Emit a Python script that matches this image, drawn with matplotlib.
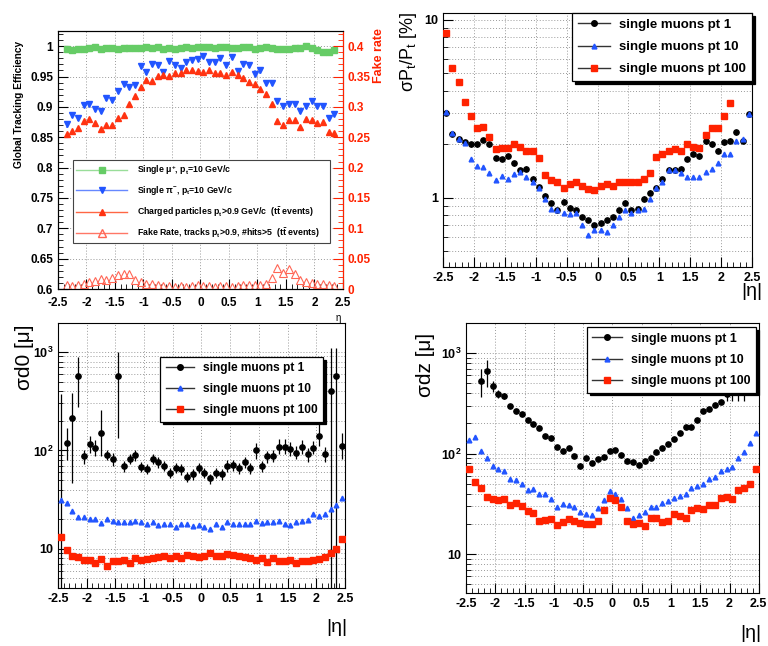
"""Tracking performance summary: efficiency / fake rate and track-parameter
resolutions versus eta, redrawn in ROOT-like style."""

import matplotlib

matplotlib.use("Agg")
import matplotlib.pyplot as plt
import numpy as np
from matplotlib.lines import Line2D
from matplotlib.ticker import FuncFormatter, LogLocator, MultipleLocator, NullFormatter

plt.rcParams["font.family"] = ["Liberation Sans", "DejaVu Sans"]
plt.rcParams["mathtext.default"] = "regular"
plt.rcParams["axes.unicode_minus"] = False

# ---------------------------------------------------------------- data
# efficiency panel: 48 bins, centres -2.35 .. 2.35
eta_eff = np.linspace(-2.35, 2.35, 48)
eff_mu = [0.996, 0.994, 0.995, 0.996, 0.997, 0.998, 0.996, 0.997, 0.997, 0.996,
          0.997, 0.997, 0.997, 0.997, 0.998, 0.997, 0.998, 0.996, 0.997, 0.995,
          0.997, 0.998, 0.997, 0.998, 0.998, 0.999, 0.997, 0.999, 0.998, 0.997,
          0.997, 0.998, 0.999, 0.996, 0.997, 0.998, 0.997, 0.996, 0.995, 0.996,
          0.997, 0.997, 1.000, 0.997, 0.993, 0.991, 0.990, 0.994]
eff_pi = [0.871, 0.886, 0.882, 0.903, 0.905, 0.897, 0.893, 0.914, 0.911, 0.926,
          0.938, 0.933, 0.936, 0.968, 0.957, 0.971, 0.969, 0.958, 0.975, 0.969,
          0.964, 0.974, 0.978, 0.979, 0.984, 0.974, 0.974, 0.981, 0.969, 0.982,
          0.959, 0.970, 0.969, 0.955, 0.960, 0.940, 0.940, 0.909, 0.902, 0.905,
          0.905, 0.893, 0.901, 0.909, 0.901, 0.901, 0.882, 0.888]
eff_ttbar = [0.856, 0.860, 0.865, 0.877, 0.880, 0.874, 0.864, 0.870, 0.870, 0.882,
             0.886, 0.905, 0.918, 0.932, 0.944, 0.942, 0.951, 0.953, 0.951, 0.956,
             0.956, 0.960, 0.960, 0.959, 0.958, 0.960, 0.956, 0.956, 0.952, 0.957,
             0.952, 0.948, 0.941, 0.938, 0.930, 0.922, 0.905, 0.876, 0.870, 0.879,
             0.879, 0.867, 0.880, 0.878, 0.873, 0.875, 0.859, 0.857]
fake_rate = [0.007, 0.005, 0.007, 0.009, 0.0115, 0.014, 0.016, 0.015, 0.018, 0.023,
             0.025, 0.025, 0.015, 0.012, 0.009, 0.009, 0.007, 0.005, 0.005, 0.004,
             0.005, 0.004, 0.005, 0.007, 0.005, 0.005, 0.004, 0.005, 0.005, 0.004,
             0.005, 0.007, 0.007, 0.007, 0.007, 0.009, 0.018, 0.035, 0.027, 0.033,
             0.025, 0.015, 0.011, 0.010, 0.009, 0.009, 0.007, 0.005]

# resolution panels: 50 bins, centres -2.45 .. 2.45
eta = np.linspace(-2.45, 2.45, 50)

pt_res_1 = [3.0, 2.28, 2.13, 2.05, 2.0, 2.0, 2.11, 2.0, 1.67, 1.65,
            1.72, 1.56, 1.43, 1.46, 1.28, 1.15, 1.03, 0.93, 0.85, 0.95,
            0.88, 0.85, 0.78, 0.75, 0.70, 0.72, 0.75, 0.78, 0.85, 0.94,
            0.85, 0.87, 0.99, 1.07, 1.14, 1.27, 1.44, 1.44, 1.46, 1.65,
            1.77, 1.71, 2.07, 2.0, 1.84, 2.05, 2.09, 2.33, 2.09, 2.95]
pt_res_10 = [3.02, 2.3, 2.13, 2.04, 1.65, 1.51, 1.48, 1.37, 1.26, 1.33,
             1.28, 1.36, 1.40, 1.31, 1.23, 1.13, 0.99, 0.87, 0.85, 0.82,
             0.81, 0.82, 0.70, 0.62, 0.66, 0.66, 0.64, 0.70, 0.78, 0.85,
             0.82, 0.85, 0.87, 0.98, 1.13, 1.23, 1.43, 1.44, 1.37, 1.31,
             1.30, 1.31, 1.40, 1.45, 1.56, 1.77, 1.77, 2.07, 2.15, 2.95]
pt_res_100 = [8.4, 5.35, 4.44, 3.43, 2.88, 2.48, 2.49, 2.18, 1.88, 1.91,
              1.91, 2.0, 1.94, 1.84, 1.84, 1.68, 1.34, 1.26, 1.22, 1.14,
              1.19, 1.23, 1.17, 1.12, 1.10, 1.17, 1.19, 1.16, 1.23, 1.23,
              1.23, 1.22, 1.28, 1.37, 1.70, 1.77, 1.82, 1.88, 1.82, 2.0,
              1.94, 1.91, 2.26, 2.48, 2.48, 2.88, 3.40, 4.66, 6.8, 10.2]

d0_res_1 = [3.0, 120, 211, 572, 87, 116, 107, 149, 90, 82,
            567, 69, 82, 90, 68, 65, 82, 76, 70, 59,
            67, 64, 54, 57, 67, 59, 52, 59, 57, 70,
            71, 66, 76, 66, 100, 69, 87, 88, 109, 109,
            103, 95, 109, 91, 107, 140, 91, 400, 567, 111]
d0_err_dn_1 = [0, 40, 164, 294, 15, 22, 20, 62, 10, 12,
               434, 9, 10, 12, 8, 8, 10, 9, 8, 7,
               8, 8, 6, 7, 8, 7, 6, 7, 7, 9,
               9, 8, 10, 8, 18, 9, 12, 12, 18, 18,
               15, 14, 16, 14, 16, 30, 15, 399, 566, 30]
d0_err_up_1 = [367, 47, 168, 318, 15, 25, 22, 108, 10, 12,
               433, 9, 10, 12, 8, 8, 10, 9, 8, 7,
               8, 8, 6, 7, 8, 7, 6, 7, 7, 9,
               9, 8, 10, 8, 20, 9, 12, 12, 22, 22,
               18, 15, 18, 14, 18, 55, 18, 700, 530, 40]
d0_res_10 = [31.6, 29, 24, 21, 21, 20, 20, 18.5, 20, 19,
             18.6, 18.6, 18.6, 19, 18.6, 18, 18.6, 17.5, 17.7, 18,
             16.7, 17.7, 17.7, 17, 17.3, 16.8, 16, 17.7, 16.7, 18.6,
             17.7, 18, 18, 17.7, 19, 18.3, 18.8, 18.6, 19.2, 18,
             17.5, 18.6, 19, 19.4, 22.5, 21.5, 22.6, 25.5, 28, 33]
d0_res_100 = [13.1, 9.8, 8.5, 8.3, 7.7, 7.7, 7.2, 7.9, 6.7, 7.6,
              7.6, 7.7, 7.2, 8.0, 7.7, 7.9, 8.0, 8.3, 8.5, 8.1,
              8.5, 8.1, 8.6, 8.5, 8.3, 8.5, 9.1, 8.5, 8.5, 8.9,
              8.6, 8.5, 8.3, 8.0, 7.7, 8.0, 7.4, 8.0, 7.6, 7.6,
              7.7, 7.2, 7.6, 7.6, 7.7, 7.9, 8.2, 9.0, 10.0, 12.7]

dz_res_1 = [np.nan, np.nan, 528, 660, 467, 395, 375, 298, 266, 250,
            215, 199, 180, 150, 143, 117, 107, 114, 95.5, 76,
            91, 81, 88, 92, 106, 108, 97, 85, 82, 77,
            85, 91, 104, 114, 124, 141, 160, 185, 185, 218,
            266, 276, 303, 327, 390, 420, 450, 480, 560, 650]
dz_err_1 = [0, 0, 165, 200, 60, 35, 25, 15, 12, 10,
            9, 8, 7, 6, 6, 5, 5, 5, 4, 4,
            4, 4, 4, 4, 5, 5, 4, 4, 4, 4,
            4, 4, 5, 5, 6, 6, 7, 8, 8, 9,
            11, 12, 14, 16, 60, 90, 120, 150, 120, 100]
dz_res_10 = [136, 145, 106, 91, 76, 70, 67, 56, 54, 50,
             43.4, 44.5, 39.5, 39.5, 35.5, 29.4, 31.6, 30.9, 29.1, 26.2,
             24.8, 24.3, 28.6, 34.2, 42.8, 39.6, 35.5, 28.6, 23.1, 24.3,
             26.5, 29.1, 29.7, 32, 34, 36.5, 38.2, 39.5, 45, 47.5,
             50, 55.5, 59, 67, 71, 74, 91, 104, 126, 159]
dz_res_100 = [70.3, 52.6, 45, 37.4, 35.2, 34.3, 35.5, 30.9, 32, 30.4,
              27, 25.6, 21.5, 21.7, 22.3, 19.3, 20.7, 22.3, 21.5, 20.4,
              19.7, 20, 21.5, 27.6, 35.9, 34.6, 29.4, 21.5, 20.1, 20.4,
              18.9, 22.8, 22.8, 20.8, 21.5, 25.2, 23.7, 22.8, 27.6, 28.6,
              28.2, 30.9, 30.9, 35.9, 36.8, 35.5, 43.4, 45, 50, 70.3]

# ---------------------------------------------------------------- style
GREEN = "#66cc66"
BLUE = "#2255ff"
RED = "#ff3311"
FAKE = "#ff6655"
GRIDC = "#9a9a9a"
LEG_LABELS = ["single muons pt 1", "single muons pt 10", "single muons pt 100"]


def root_axes(ax, tick_size=9):
    ax.set_xlim(-2.5, 2.5)
    ax.xaxis.set_major_locator(MultipleLocator(0.5))
    ax.xaxis.set_minor_locator(MultipleLocator(0.1))
    ax.xaxis.set_major_formatter(FuncFormatter(lambda v, p: f"{v:g}"))
    ax.tick_params(which="both", direction="in", top=False, right=False)
    ax.tick_params(which="major", length=7, width=0.8)
    ax.tick_params(which="minor", length=3.5, width=0.6)
    ax.tick_params(labelsize=tick_size)
    ax.grid(True, which="major", axis="x", color=GRIDC, ls=(0, (1, 2)), lw=0.7)
    for lab in ax.get_xticklabels() + ax.get_yticklabels():
        lab.set_fontweight("bold")
    for sp in ax.spines.values():
        sp.set_linewidth(0.8)


def log_axes(ax, ylim, fmt):
    ax.set_yscale("log")
    ax.set_ylim(*ylim)
    ax.yaxis.set_major_locator(LogLocator(base=10))
    ax.yaxis.set_minor_locator(LogLocator(base=10, subs=np.arange(2, 10)))
    ax.yaxis.set_major_formatter(FuncFormatter(fmt))
    ax.yaxis.set_minor_formatter(NullFormatter())
    ax.grid(True, which="both", axis="y", color=GRIDC, ls=(0, (1, 2)), lw=0.7)


def res_handles():
    return [
        Line2D([], [], color="#333333", lw=1, marker="o", ms=4, mfc="k", mec="k"),
        Line2D([], [], color="#333333", lw=1, marker="^", ms=3.5, mfc=BLUE, mec=BLUE),
        Line2D([], [], color="#333333", lw=1, marker="s", ms=4, mfc="#ff2200", mec="#ff2200"),
    ]


def res_legend(ax, x1, y1, size):
    # ROOT-style box: anchored by its upper-right corner, opaque, black shadow
    leg = ax.legend(res_handles(), LEG_LABELS, loc="upper right",
                    bbox_to_anchor=(x1, y1), borderaxespad=0,
                    prop={"weight": "bold", "size": size}, handlelength=2.4,
                    handletextpad=0.7, labelspacing=0.75, borderpad=0.45,
                    fancybox=False, edgecolor="black", framealpha=1,
                    shadow={"color": "black", "alpha": 1})
    leg.get_frame().set_linewidth(0.9)
    leg.set_zorder(20)


def plot_res(ax, y1, y10, y100, err1=None):
    if err1 is None:
        err1 = np.array(y1) * 0.03
    ax.errorbar(eta, y1, yerr=err1, fmt="o", color="k", ms=3.8, elinewidth=0.9,
                capsize=0, zorder=4)
    ax.errorbar(eta, y10, yerr=np.array(y10) * 0.015, fmt="^", color=BLUE, ms=3.4,
                elinewidth=0.6, capsize=0, zorder=5)
    ax.errorbar(eta, y100, yerr=np.array(y100) * 0.015, fmt="s", color="#ff2200",
                ms=3.8, elinewidth=0.6, capsize=0, zorder=6)


def pow_fmt(v, p):
    n = int(round(np.log10(v)))
    return "10" if n == 1 else f"$10^{{{n}}}$"


fig = plt.figure(figsize=(7.68, 6.46), dpi=100, facecolor="white")

# ---- panel 1: efficiency + fake rate
ax1 = fig.add_axes([0.0755, 0.5526, 0.3711, 0.3994])
root_axes(ax1, tick_size=8.5)
ax1.tick_params(axis="x", pad=5.5)
ax1.set_ylim(0.6, 1.025)
ax1.yaxis.set_major_locator(MultipleLocator(0.05))
ax1.yaxis.set_minor_locator(MultipleLocator(0.01))
ax1.yaxis.set_major_formatter(FuncFormatter(lambda v, p: f"{v:g}"))
ax1.grid(True, which="major", axis="y", color=GRIDC, ls=(0, (1, 2)), lw=0.7)
for lab in ax1.get_yticklabels():
    lab.set_fontweight("bold")
ax1.errorbar(eta_eff, eff_mu, yerr=0.001, fmt="s", color=GREEN, ms=5, capsize=0, zorder=3)
ax1.errorbar(eta_eff, eff_pi, yerr=0.005, fmt="v", color=BLUE, ecolor="#88aaff", ms=5,
             capsize=0, zorder=3)
ax1.errorbar(eta_eff, eff_ttbar, yerr=0.0015, fmt="^", color=RED, ms=5, capsize=0, zorder=3)
ax1.set_ylabel("Global Tracking Efficiency", fontsize=7.3, fontweight="bold")
ax1.yaxis.set_label_coords(-0.118, 0.715)

ax1r = ax1.twinx()
ax1r.set_ylim(0, 0.425)
ax1r.yaxis.set_major_locator(MultipleLocator(0.05))
ax1r.yaxis.set_minor_locator(MultipleLocator(0.01))
ax1r.yaxis.set_major_formatter(FuncFormatter(lambda v, p: f"{v:g}"))
ax1r.tick_params(which="both", direction="in", colors="#ff2200", labelsize=8.5)
ax1r.tick_params(which="major", length=7)
ax1r.tick_params(which="minor", length=3.5)
ax1r.spines["right"].set_color("#ff2200")
for lab in ax1r.get_yticklabels():
    lab.set_fontweight("bold")
ax1r.plot(eta_eff, fake_rate, ls="none", marker="^", ms=5.5, mfc="none", mec=FAKE, mew=0.8)
ax1r.set_ylabel("Fake rate", fontsize=9, fontweight="bold", color="#ff2200")
ax1r.yaxis.set_label_coords(1.105, 0.905)

eff_handles = [
    Line2D([], [], color="#99dd99", lw=1, marker="s", ms=5, mfc=GREEN, mec=GREEN),
    Line2D([], [], color="#6688ff", lw=1, marker="v", ms=5, mfc=BLUE, mec=BLUE),
    Line2D([], [], color="#ff6644", lw=1, marker="^", ms=5, mfc=RED, mec=RED),
    Line2D([], [], color="#ff7766", lw=1, marker="^", ms=5.5, mfc="none", mec=FAKE),
]
eff_labels = [
    r"Single $\mu^{+}$, p$_{t}$=10 GeV/c",
    r"Single $\pi^{-}$, p$_{t}$=10 GeV/c",
    r"Charged particles p$_{t}$>0.9 GeV/c  (t$\bar{t}$ events)",
    r"Fake Rate, tracks p$_{t}$>0.9, #hits>5  (t$\bar{t}$ events)",
]
leg1 = ax1r.legend(eff_handles, eff_labels, loc="upper left",
                   bbox_to_anchor=(0.053, 0.0, 0.901, 0.5), mode="expand",
                   borderaxespad=0, prop={"weight": "bold", "size": 6.3},
                   handlelength=5.8, handletextpad=1.1, labelspacing=0.85,
                   borderpad=0.35, fancybox=False, edgecolor="#444444", framealpha=1)
leg1.get_frame().set_linewidth(0.8)
fig.text(0.437, 0.508, "η", fontsize=7, ha="left", va="center")

# ---- panel 2: pt resolution
ax2 = fig.add_axes([0.577, 0.587, 0.402, 0.393])
root_axes(ax2)
log_axes(ax2, (0.41, 10.9), lambda v, p: f"{v:g}")
for lab in ax2.get_yticklabels():
    lab.set_fontweight("bold")
plot_res(ax2, pt_res_1, pt_res_10, pt_res_100)
res_legend(ax2, 1.0, 1.0, 9.5)
ax2.set_ylabel(r"σP$_{t}$/P$_{t}$ [%]", fontsize=13)
ax2.yaxis.set_label_coords(-0.078, 0.846)
fig.text(0.993, 0.548, "|η|", fontsize=14, ha="right", va="center")

# ---- panel 3: d0 resolution
ax3 = fig.add_axes([0.0755, 0.0898, 0.3737, 0.4102])
root_axes(ax3)
log_axes(ax3, (4.0, 1970), pow_fmt)
for lab in ax3.get_yticklabels():
    lab.set_fontweight("bold")
plot_res(ax3, d0_res_1, d0_res_10, d0_res_100, err1=[d0_err_dn_1, d0_err_up_1])
res_legend(ax3, 0.923, 0.872, 8.6)
ax3.set_ylabel("σd0 [μ]", fontsize=15)
ax3.yaxis.set_label_coords(-0.085, 0.87)
fig.text(0.452, 0.028, "|η|", fontsize=14, ha="right", va="center")

# ---- panel 4: dz resolution
ax4 = fig.add_axes([0.607, 0.082, 0.381, 0.418])
root_axes(ax4)
log_axes(ax4, (4.1, 1990), pow_fmt)
for lab in ax4.get_yticklabels():
    lab.set_fontweight("bold")
plot_res(ax4, dz_res_1, dz_res_10, dz_res_100, err1=dz_err_1)
res_legend(ax4, 0.99, 0.985, 8.9)
ax4.set_ylabel("σdz [μ]", fontsize=15)
ax4.yaxis.set_label_coords(-0.107, 0.844)
fig.text(0.992, 0.02, "|η|", fontsize=14, ha="right", va="center")

fig.savefig("out.png", dpi=100, facecolor="white")
